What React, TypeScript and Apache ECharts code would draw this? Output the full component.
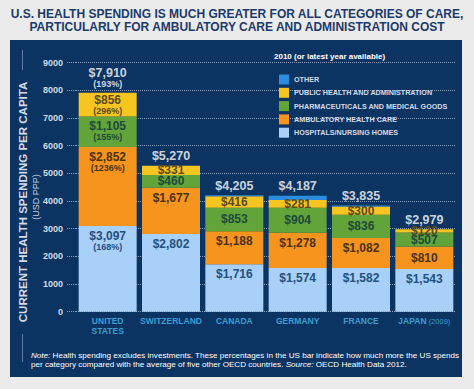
import React, { useEffect, useRef } from 'react';
import * as echarts from 'echarts';

const countries = ['UNITED\nSTATES', 'SWITZERLAND', 'CANADA', 'GERMANY', 'FRANCE', 'JAPAN'];
const hospitals = [3097, 2802, 1716, 1574, 1582, 1543];
const ambulatory = [2852, 1677, 1188, 1278, 1082, 810];
const pharma = [1105, 460, 853, 904, 836, 507];
const publicHealth = [856, 331, 416, 281, 300, 120];
const other = [0, 0, 32, 150, 35, 0];
const totals = [7910, 5270, 4205, 4187, 3835, 2979];
// US share vs average of five other countries (only shown on the US bar)
const usPctHospitals = 168;
const usPctAmbulatory = 1236;
const usPctPharma = 155;
const usPctPublic = 296;
const usPctTotal = 193;

const seriesNames = [
  'HOSPITALS/NURSING HOMES',
  'AMBULATORY HEALTH CARE',
  'PHARMACEUTICALS AND MEDICAL GOODS',
  'PUBLIC HEALTH AND ADMINISTRATION',
  'OTHER',
];

const FONT = '"Liberation Sans", Arial, sans-serif';
const fmt = (v: number) => '$' + v.toLocaleString('en-US');

export default function App() {
  const ref = useRef<HTMLDivElement>(null);
  useEffect(() => {
    if (!ref.current) return;
    const chart = echarts.init(ref.current, null, { renderer: 'svg' });

    const segLabel = (color: string, pct: number | null) => ({
      show: true,
      position: 'insideTop',
      distance: 4,
      formatter: (p: any) =>
        p.dataIndex === 0 && pct !== null
          ? `{v|${fmt(p.value)}}\n{p|(${pct}%)}`
          : `{v|${fmt(p.value)}}`,
      rich: {
        v: { fontSize: 12, fontWeight: 'bold', color, lineHeight: 12, fontFamily: FONT },
        p: { fontSize: 9, fontWeight: 'bold', color, lineHeight: 10, fontFamily: FONT },
      },
    });

    const seg = (name: string, values: number[], color: string, label: any) => ({
      name,
      type: 'bar',
      stack: 'total',
      data: values.map((v) => ({
        value: v,
        label: { position: v < 1000 ? 'inside' : 'insideTop' },
      })),
      barWidth: 58,
      itemStyle: { color },
      label,
      silent: true,
    });

    const option: any = {
      animation: false,
      backgroundColor: '#ebebeb',
      textStyle: { fontFamily: FONT },
      legend: {
        data: [seriesNames[4], seriesNames[3], seriesNames[2], seriesNames[1], seriesNames[0]],
        orient: 'vertical',
        left: 274,
        top: 69.5,
        itemWidth: 10,
        itemHeight: 10,
        itemGap: 3.3,
        icon: 'rect',
        selectedMode: false,
        textStyle: { color: '#d4dbe6', fontSize: 7.2, fontWeight: 'bold', fontFamily: FONT },
      },
      grid: { left: 76, right: 18, top: 62.5, bottom: 77.3 },
      xAxis: {
        type: 'category',
        data: countries,
        axisLine: { show: false },
        axisTick: { show: false },
        axisLabel: {
          margin: 5,
          interval: 0,
          formatter: (v: string) => {
            if (v === 'JAPAN') return '{b|JAPAN}{s| (2009)}';
            return v.split('\n').map((l) => `{b|${l}}`).join('\n');
          },
          rich: {
            b: { color: '#3b9fcf', fontSize: 8.5, fontWeight: 'bold', lineHeight: 9.5, fontFamily: FONT },
            s: { color: '#3b9fcf', fontSize: 7.5, fontWeight: 'normal', lineHeight: 9.5, fontFamily: FONT },
          },
        },
      },
      yAxis: {
        type: 'value',
        min: 0,
        max: 9000,
        interval: 1000,
        axisLine: { show: false },
        axisTick: { show: true, length: 10, lineStyle: { color: '#8aa0bd', type: 'dotted', width: 1 } },
        axisLabel: {
          margin: 13,
          color: '#d4dbe6',
          fontSize: 9,
          fontWeight: 'bold',
          fontFamily: FONT,
          formatter: (v: number) => String(v),
        },
        splitLine: { show: true, lineStyle: { color: '#8aa0bd', type: 'dotted', width: 1 } },
      },
      graphic: [
        {
          type: 'rect',
          z: -10,
          shape: { x: 10, y: 40, width: 452, height: 337 },
          style: { fill: '#0b3463' },
          silent: true,
        },
        {
          type: 'text',
          z: 10,
          x: 237,
          y: 8,
          style: {
            text: 'U.S. HEALTH SPENDING IS MUCH GREATER FOR ALL CATEGORIES OF CARE,\nPARTICULARLY FOR AMBULATORY CARE AND ADMINISTRATION COST',
            fill: '#1b3a6b',
            fontSize: 12,
            fontWeight: 'bold',
            fontFamily: FONT,
            lineHeight: 12.5,
            align: 'center',
            verticalAlign: 'top',
          },
        },
        {
          type: 'line',
          z: 10,
          shape: { x1: 22.5, y1: 50, x2: 22.5, y2: 70 },
          style: { stroke: '#5d7ba3', lineWidth: 1 },
        },
        {
          type: 'line',
          z: 10,
          shape: { x1: 22.5, y1: 334, x2: 22.5, y2: 362 },
          style: { stroke: '#5d7ba3', lineWidth: 1 },
        },
        {
          type: 'text',
          z: 10,
          x: 23,
          y: 202,
          rotation: Math.PI / 2,
          style: {
            text: 'CURRENT HEALTH SPENDING PER CAPITA',
            fill: '#d4dbe6',
            fontSize: 11.5,
            fontWeight: 'bold',
            fontFamily: FONT,
            align: 'center',
            verticalAlign: 'middle',
          },
        },
        {
          type: 'text',
          z: 10,
          x: 35.5,
          y: 197,
          rotation: Math.PI / 2,
          style: {
            text: '(USD PPP)',
            fill: '#c4cedd',
            fontSize: 9,
            fontFamily: FONT,
            align: 'center',
            verticalAlign: 'middle',
          },
        },
        {
          type: 'text',
          z: 10,
          x: 274,
          y: 52.5,
          style: {
            text: '2010 (or latest year available)',
            fill: '#ffffff',
            fontSize: 8,
            fontWeight: 'bold',
            fontFamily: FONT,
            verticalAlign: 'top',
          },
        },
        {
          type: 'text',
          z: 10,
          x: 31,
          y: 350.5,
          style: {
            text:
              '{i|Note:} Health spending excludes investments. These percentages in the US bar indicate how much more the US spends\nper category compared with the average of five other OECD countries. {i|Source:} OECD Health Data 2012.',
            fill: '#ffffff',
            fontSize: 8.1,
            fontFamily: FONT,
            lineHeight: 9.3,
            verticalAlign: 'top',
            rich: {
              i: { fontStyle: 'italic', fill: '#ffffff', fontSize: 8.1, fontFamily: FONT, lineHeight: 9.3 },
            },
          },
        },
      ],
      series: [
        seg(seriesNames[0], hospitals, '#a8d0f8', segLabel('#25507f', usPctHospitals)),
        seg(seriesNames[1], ambulatory, '#f7941d', segLabel('#4d3210', usPctAmbulatory)),
        seg(seriesNames[2], pharma, '#63a43a', segLabel('#1d4b39', usPctPharma)),
        seg(seriesNames[3], publicHealth, '#f7c520', segLabel('#5b4a1a', usPctPublic)),
        seg(seriesNames[4], other, '#2a8de0', { show: false }),
        {
          name: 'TOTAL',
          type: 'scatter',
          data: totals,
          symbolSize: 1,
          itemStyle: { color: 'rgba(0,0,0,0)' },
          silent: true,
          z: 5,
          label: {
            show: true,
            position: 'top',
            distance: 3,
            formatter: (p: any) =>
              p.dataIndex === 0
                ? `{t|${fmt(p.value)}}\n{tp|(${usPctTotal}%)}`
                : `{t|${fmt(p.value)}}`,
            rich: {
              t: { fontSize: 12.5, fontWeight: 'bold', color: '#ffffff', lineHeight: 12, fontFamily: FONT },
              tp: { fontSize: 9, fontWeight: 'bold', color: '#ffffff', lineHeight: 10, fontFamily: FONT },
            },
          },
        },
      ],
    };

    chart.setOption(option);
    return () => chart.dispose();
  }, []);

  return (
    <div
      ref={ref}
      style={{ position: 'absolute', left: 0, top: 0, width: 474, height: 389 }}
    />
  );
}
